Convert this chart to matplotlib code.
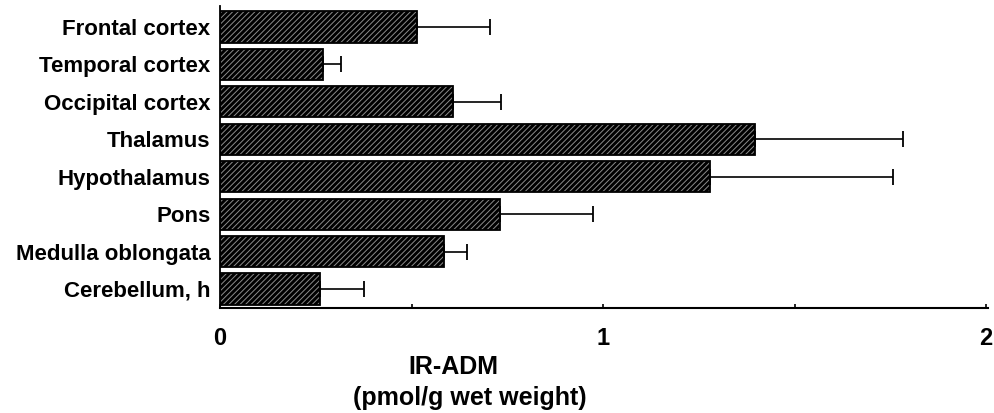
import numpy as np
import matplotlib
matplotlib.use('Agg')
import matplotlib.pyplot as plt

plt.rcParams['font.family'] = ['Liberation Sans', 'DejaVu Sans']
plt.rcParams['font.weight'] = 'bold'
plt.rcParams['hatch.linewidth'] = 0.7

regions = ['Frontal cortex', 'Temporal cortex', 'Occipital cortex',
           'Thalamus', 'Hypothalamus', 'Pons',
           'Medulla oblongata', 'Cerebellum, h']
means = [0.514, 0.269, 0.608, 1.397, 1.279, 0.731, 0.585, 0.261]
sems  = [0.191, 0.047, 0.126, 0.386, 0.478, 0.243, 0.060, 0.115]
x_ticks = [0, 1, 2]
x_minor = [0.5, 1.5]

W, H = 994, 413
fig = plt.figure(figsize=(W / 100, H / 100), dpi=100, facecolor='white')
ax = fig.add_axes([220 / W, 1 - 308 / H, (988 - 220) / W, (308 - 6) / H])

pos = np.arange(len(regions))
# hatched fill, then a plain black outline on top
ax.barh(pos, means, height=0.83, color='black',
        edgecolor='#8c8c8c', hatch='//////', linewidth=0)
ax.barh(pos, means, height=0.83, fill=False,
        edgecolor='black', linewidth=1.3)
ax.errorbar(means, pos, xerr=[np.zeros(len(sems)), sems],
            fmt='none', ecolor='black', elinewidth=1.2,
            capsize=5.5, capthick=1.3)

ax.set_xlim(0, (988 - 220) / 383)
ax.set_ylim(7.508, -0.561)
ax.set_yticks(pos)
ax.set_yticklabels(regions, fontsize=16, fontweight='bold')
ax.tick_params(axis='y', length=0, pad=7)
ax.set_xticks(x_ticks)
ax.set_xticklabels([str(t) for t in x_ticks], fontsize=17,
                   fontweight='bold')
ax.set_xticks(x_minor, minor=True)
ax.tick_params(axis='x', which='both', direction='in', length=3,
               width=1.2, pad=14)

for side in ['top', 'right']:
    ax.spines[side].set_visible(False)
ax.spines['left'].set_linewidth(1.3)
ax.spines['bottom'].set_linewidth(1.5)

fig.text(453 / W, 1 - 367 / H, 'IR-ADM', ha='center', va='center',
         fontsize=18, fontweight='bold')
fig.text(470 / W, 1 - 398 / H, '(pmol/g wet weight)', ha='center',
         va='center', fontsize=18, fontweight='bold')

plt.savefig('out.png', dpi=100, facecolor='white')
plt.close()
